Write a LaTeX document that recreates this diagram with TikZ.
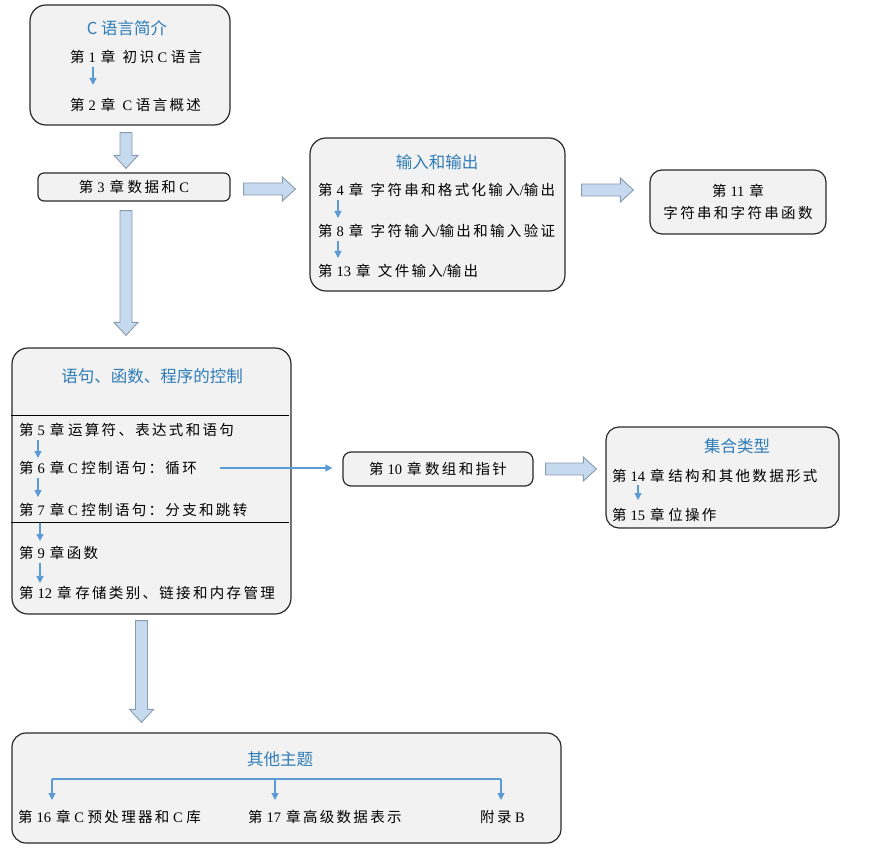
\documentclass[tikz,border=0pt]{standalone}
\usepackage{fontspec}
\setmainfont{Liberation Serif}
\newfontfamily\cjk[LetterSpace=16]{Noto Sans CJK SC}
\newfontfamily\cjkhead{Noto Sans CJK SC}
\usetikzlibrary{positioning,calc,arrows.meta}

\definecolor{boxfill}{HTML}{F2F2F2}
\definecolor{boxedge}{HTML}{2B2B2B}
\definecolor{headblue}{HTML}{2E7CB8}
\definecolor{linkblue}{HTML}{5B9BD5}
\definecolor{fatfill}{HTML}{C6DAEF}
\definecolor{fatedge}{HTML}{8A9BAE}

\newcommand\chap[1]{{\cjk 第}\hspace{4pt}#1\hspace{5pt}{\cjk 章}}

% block arrows between two points
\newcommand\fatdown[2]{%
  \path[fat] let \p1=(#1), \p2=(#2) in
    (\x1-6pt,\y1) -- (\x1+6pt,\y1) -- (\x1+6pt,\y2+13pt) -- (\x1+12pt,\y2+13pt)
    -- (\x1,\y2) -- (\x1-12pt,\y2+13pt) -- (\x1-6pt,\y2+13pt) -- cycle;}
\newcommand\fatright[2]{%
  \path[fat] let \p1=(#1), \p2=(#2) in
    (\x1,\y1+6pt) -- (\x1,\y1-6pt) -- (\x2-13pt,\y1-6pt) -- (\x2-13pt,\y1-12pt)
    -- (\x2,\y1) -- (\x2-13pt,\y1+12pt) -- (\x2-13pt,\y1+6pt) -- cycle;}

\tikzset{
  groupbox/.style={draw=boxedge, line width=1.2pt, fill=boxfill, rounded corners=16pt, inner sep=0pt},
  chapbox/.style={draw=boxedge, line width=1.2pt, fill=boxfill, rounded corners=6pt, inner sep=0pt,
    font=\fontsize{14.5}{22}\selectfont},
  head/.style={font=\cjkhead\fontsize{16.5}{19}\selectfont, text=headblue, inner sep=0pt},
  entry/.style={font=\fontsize{14.5}{17}\selectfont, anchor=west, inner sep=0pt},
  link/.style={draw=linkblue, line width=1.2pt, -{Triangle[length=7pt,width=7pt]}},
  fork/.style={draw=linkblue, line width=1.2pt},
  sep/.style={draw=black, line width=1pt},
  fat/.style={draw=fatedge, fill=fatfill, line width=0.9pt},
}

\begin{document}
\begin{tikzpicture}[x=1pt, y=-1pt]
\useasboundingbox (0,0) rectangle (872,853);

% boxes
\node[groupbox, minimum width=200, minimum height=120] (introbox) at (130,65) {};
\node[chapbox, minimum width=192, minimum height=28] (ch3) at (134,187) {\chap{3}\ {\cjk 数据和} C};
\node[groupbox, minimum width=255, minimum height=153] (iobox) at (437.5,214.5) {};
\node[chapbox, rounded corners=12pt, minimum width=176, minimum height=64, align=center] (ch11) at (738,202)
  {\chap{11}\\{\cjk 字符串和字符串函数}};
\node[groupbox, minimum width=279, minimum height=266] (ctrlbox) at (151.5,481) {};
\node[chapbox, rounded corners=8pt, minimum width=190, minimum height=34] (ch10) at (438,469)
  {\chap{10}\ {\cjk 数组和指针}};
\node[groupbox, rounded corners=13pt, minimum width=233, minimum height=101] (setbox) at (722.5,477.5) {};
\node[groupbox, rounded corners=14pt, minimum width=549, minimum height=110] (otherbox) at (286.5,788) {};

% titles
\node[head] (introhead) at (127,28)  {C 语言简介};
\node[head] (iohead)    at (437,162) {输入和输出};
\node[head] (ctrlhead)  at (152,376) {语句、函数、程序的控制};
\node[head] (sethead)   at (737,446) {集合类型};
\node[head] (otherhead) at (280,759) {其他主题};

% chapters
\node[entry] (c1)  at (70,57)   {\chap{1}\ \ {\cjk 初识} C {\cjk 语言}};
\node[entry] (c2)  at (70,105)  {\chap{2}\ \ C {\cjk 语言概述}};
\node[entry] (c4)  at (318,190) {\chap{4}\ \ {\cjk 字符串和格式化输入}/{\cjk 输出}};
\node[entry] (c8)  at (318,231) {\chap{8}\ \ {\cjk 字符输入}/{\cjk 输出和输入验证}};
\node[entry] (c13) at (318,271) {\chap{13}\ \ {\cjk 文件输入}/{\cjk 输出}};
\node[entry] (c5)  at (19,430)  {\chap{5}\ {\cjk 运算符、表达式和语句}};
\node[entry] (c6)  at (19,468)  {\chap{6}\ C {\cjk 控制语句：循环}};
\node[entry] (c7)  at (19,510)  {\chap{7}\ C {\cjk 控制语句：分支和跳转}};
\node[entry] (c9)  at (19,553)  {\chap{9}{\cjk 函数}};
\node[entry] (c12) at (19,593)  {\chap{12}\ {\cjk 存储类别、链接和内存管理}};
\node[entry] (c14) at (612,476) {\chap{14}\ {\cjk 结构和其他数据形式}};
\node[entry] (c15) at (612,515) {\chap{15}\ {\cjk 位操作}};
\node[entry] (c16) at (18,817)  {\chap{16}\ C {\cjk 预处理器和} C {\cjk 库}};
\node[entry] (c17) at (248,817) {\chap{17}{\cjk 高级数据表示}};
\node[entry] (appB) at (480,817) {{\cjk 附录} B};

% separators
\draw[sep] ($(ctrlbox.north west)+(0,68)$) -- ($(ctrlbox.north east)+(-3,68)$);
\draw[sep] ($(ctrlbox.north west)+(0,175)$) -- ($(ctrlbox.north east)+(-3,175)$);

% reading order
\draw[link] ($(c1.south west)+(23,3)$) -- ++(0,18);
\draw[link] ($(c4.south west)+(20,3)$) -- ++(0,18);
\draw[link] ($(c8.south west)+(20,3)$) -- ++(0,17);
\draw[link] ($(c5.south west)+(19,3)$) -- ++(0,18);
\draw[link] ($(c6.south west)+(19,3)$) -- ++(0,19);
\draw[link] ($(c7.south west)+(21,6)$) -- ++(0,18);
\draw[link] ($(c9.south west)+(21,3)$) -- ++(0,20);
\draw[link] ($(c14.south west)+(26,2)$) -- ++(0,15);
\draw[link, shorten <=23pt, shorten >=10pt] (c6.east) -- (c6.east -| ch10.west);

\coordinate (forkL) at (52,779);
\coordinate (forkM) at (275,779);
\coordinate (forkR) at (501,779);
\draw[fork] (forkL) -- (forkR);
\draw[link] (forkL) -- ++(0,21);
\draw[link] (forkM) -- ++(0,21);
\draw[link] (forkR) -- ++(0,21);

% block arrows
\fatdown{$(introbox.south)+(-4,7)$}{$(ch3.north)+(0,-4)$}
\fatright{$(ch3.east)+(13,2)$}{$(iobox.west)+(-14,0)$}
\fatright{$(iobox.east |- c4)+(16,0)$}{$(ch11.west)+(-16,0)$}
\fatdown{$(ch3.south)+(-8,9)$}{$(ctrlbox.north)+(0,-12)$}
\fatright{$(ch10.east)+(12,0)$}{$(setbox.west)+(-9,0)$}
\fatdown{$(ctrlbox.south)+(-10,6)$}{$(otherbox.north)+(0,-10)$}
\end{tikzpicture}
\end{document}
